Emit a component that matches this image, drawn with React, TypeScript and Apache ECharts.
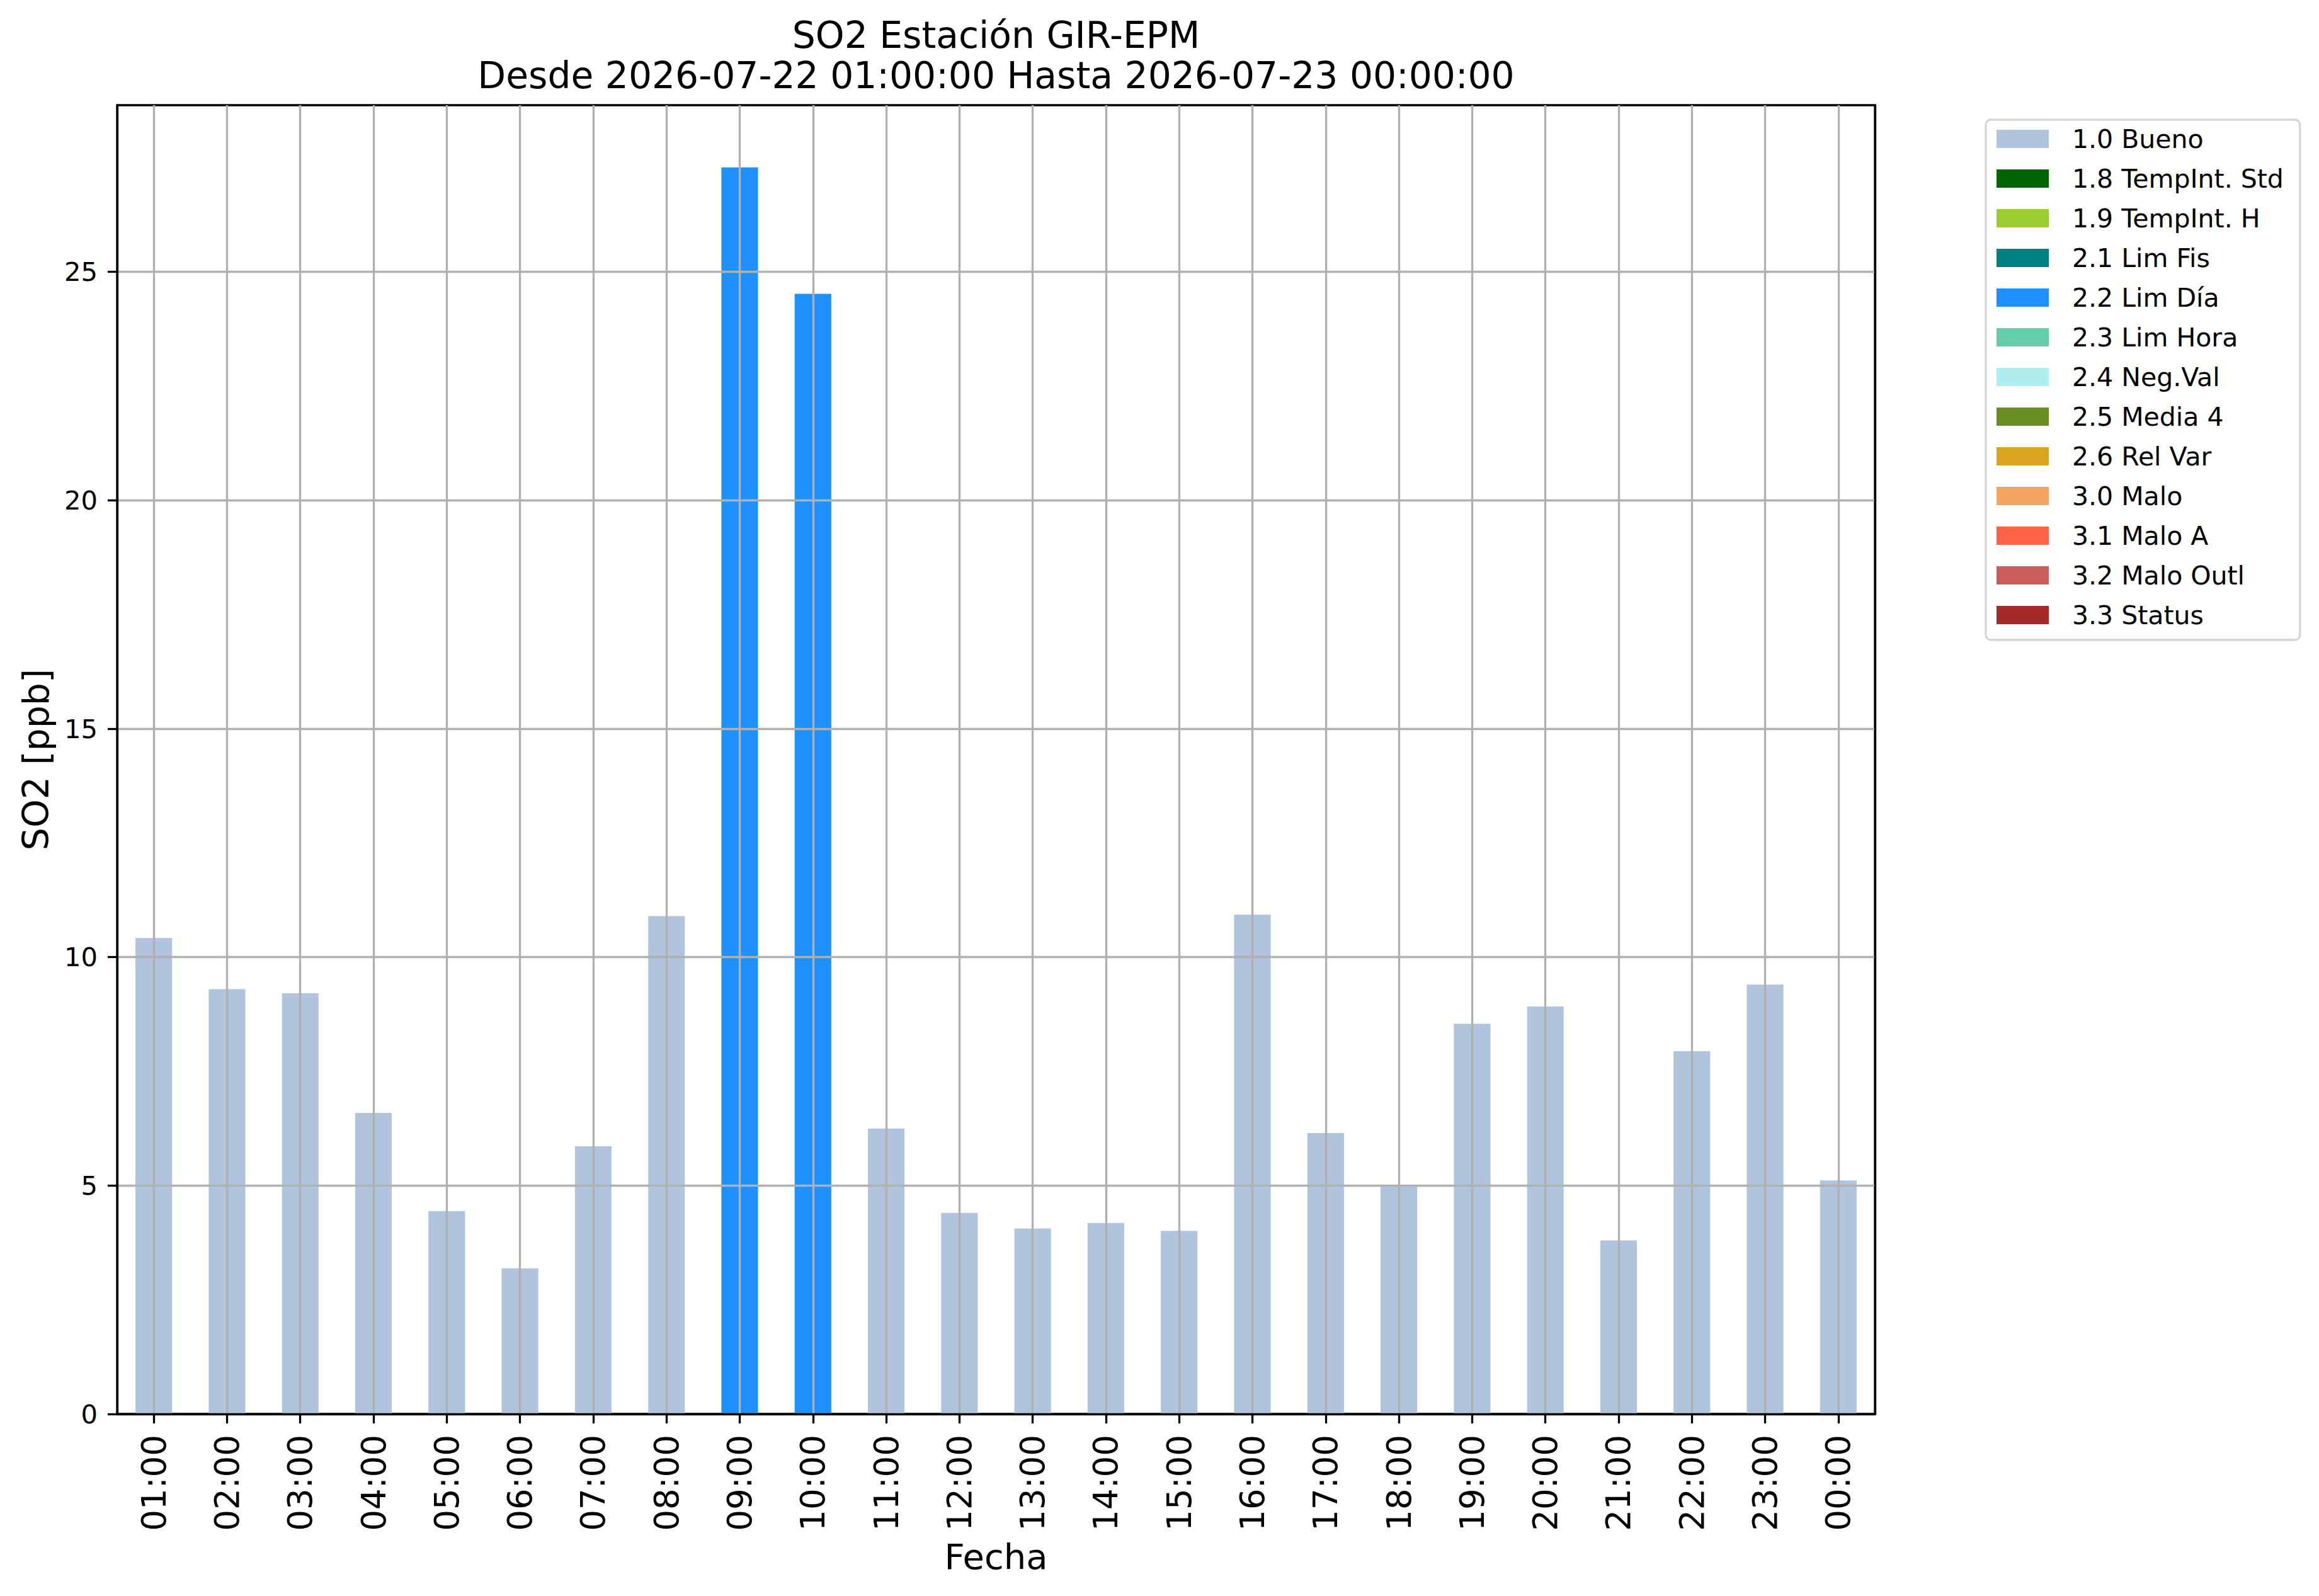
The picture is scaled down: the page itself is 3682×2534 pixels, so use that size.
import React, { useEffect, useRef } from 'react';
import * as echarts from 'echarts';

const hours = [
  '01:00', '02:00', '03:00', '04:00', '05:00', '06:00', '07:00', '08:00',
  '09:00', '10:00', '11:00', '12:00', '13:00', '14:00', '15:00', '16:00',
  '17:00', '18:00', '19:00', '20:00', '21:00', '22:00', '23:00', '00:00',
];

const so2Values = [
  10.42, 9.3, 9.21, 6.59, 4.44, 3.19, 5.86, 10.9,
  27.29, 24.52, 6.25, 4.4, 4.06, 4.18, 4.01, 10.93,
  6.15, 4.98, 8.54, 8.92, 3.8, 7.94, 9.4, 5.11,
];

const hourFlags = [
  '1.0 Bueno', '1.0 Bueno', '1.0 Bueno', '1.0 Bueno', '1.0 Bueno', '1.0 Bueno', '1.0 Bueno', '1.0 Bueno',
  '2.2 Lim Día', '2.2 Lim Día', '1.0 Bueno', '1.0 Bueno', '1.0 Bueno', '1.0 Bueno', '1.0 Bueno', '1.0 Bueno',
  '1.0 Bueno', '1.0 Bueno', '1.0 Bueno', '1.0 Bueno', '1.0 Bueno', '1.0 Bueno', '1.0 Bueno', '1.0 Bueno',
];

const flagNames = [
  '1.0 Bueno', '1.8 TempInt. Std', '1.9 TempInt. H', '2.1 Lim Fis', '2.2 Lim Día',
  '2.3 Lim Hora', '2.4 Neg.Val', '2.5 Media 4', '2.6 Rel Var', '3.0 Malo',
  '3.1 Malo A', '3.2 Malo Outl', '3.3 Status',
];

const flagColors = [
  '#B0C4DE', '#006400', '#9ACD32', '#008080', '#1E90FF',
  '#66CDAA', '#AFEEEE', '#6B8E23', '#DAA520', '#F4A460',
  '#FF6347', '#CD5C5C', '#A52A2A',
];

const yMin = 0;
const yMax = 28.65;
const yInterval = 5;
const yTickValues = [0, 5, 10, 15, 20, 25];

const titleLines = [
  'SO2 Estación GIR-EPM',
  'Desde 2026-07-22 01:00:00 Hasta 2026-07-23 00:00:00',
];
const xName = 'Fecha';
const yName = 'SO2 [ppb]';

const FONT = 'DejaVu Sans';
const GRID_LEFT = 186;
const GRID_TOP = 167;
const GRID_W = 2791;
const GRID_H = 2078;
const BAND = GRID_W / hours.length;
const LW = 3.3;
const GRID_COLOR = '#b0b0b0';
const LEGEND_FONT = 41;

export default function App() {
  const ref = useRef<HTMLDivElement>(null);

  useEffect(() => {
    if (!ref.current) return;
    const chart = echarts.init(ref.current, undefined, { renderer: 'svg' });

    const series = flagNames.map((name, i) => ({
      name,
      type: 'bar',
      stack: 'total',
      barWidth: '50%',
      xAxisIndex: 0,
      yAxisIndex: 0,
      itemStyle: { color: flagColors[i] },
      emphasis: { disabled: true },
      data: so2Values.map((v, k) => (hourFlags[k] === name ? v : '-')),
      z: 2,
    }));

    const spine = { show: true, lineStyle: { color: '#000000', width: LW } };

    const option: any = {
      animation: false,
      backgroundColor: '#ffffff',
      textStyle: { fontFamily: FONT },
      grid: [
        {
          left: GRID_LEFT, top: GRID_TOP, width: GRID_W, height: GRID_H,
          show: true, borderColor: '#000000', borderWidth: LW, backgroundColor: 'transparent',
        },
        { left: GRID_LEFT + BAND / 2, top: GRID_TOP, width: GRID_W - BAND, height: GRID_H, show: false },
      ],
      xAxis: [
        {
          type: 'category',
          gridIndex: 0,
          data: hours,
          z: 5,
          axisLine: spine,
          axisTick: { show: true, alignWithLabel: true, length: 15, lineStyle: { color: '#000000', width: LW } },
          axisLabel: { rotate: 90, fontSize: 53, margin: 33, color: '#000000', fontFamily: FONT, interval: 0 },
          splitLine: { show: false },
        },
        {
          type: 'value',
          gridIndex: 1,
          min: 0,
          max: hours.length - 1,
          interval: 1,
          z: 3,
          axisLine: { show: false },
          axisTick: { show: false },
          axisLabel: { show: false },
          splitLine: { show: true, lineStyle: { color: GRID_COLOR, width: LW } },
        },
      ],
      yAxis: [
        {
          type: 'value',
          gridIndex: 0,
          min: yMin,
          max: yMax,
          interval: yInterval,
          z: 5,
          axisLine: spine,
          axisTick: { show: true, length: 15, customValues: yTickValues, lineStyle: { color: '#000000', width: LW } },
          axisLabel: {
            fontSize: 41.7, margin: 31, color: '#000000', fontFamily: FONT,
            customValues: yTickValues,
            formatter: (v: number) => (Math.abs(v % yInterval) < 1e-9 ? String(v) : ''),
          },
          splitLine: { show: false },
        },
        {
          type: 'value',
          gridIndex: 1,
          min: yMin,
          max: yMax,
          show: false,
          splitLine: { show: false },
        },
        {
          type: 'value',
          gridIndex: 0,
          position: 'right',
          min: yMin,
          max: yMax,
          interval: yInterval,
          z: 5,
          axisLine: spine,
          axisTick: { show: false },
          axisLabel: { show: false },
          splitLine: { show: false },
        },
      ],
      legend: {
        show: true,
        orient: 'vertical',
        left: 3153,
        top: 190,
        data: flagNames,
        icon: 'rect',
        itemWidth: 83,
        itemHeight: 29,
        itemGap: 22,
        padding: [10, 26, 19, 17],
        backgroundColor: '#ffffff',
        borderColor: '#d6d6d6',
        borderWidth: LW,
        borderRadius: 8,
        selectedMode: false,
        textStyle: {
          fontSize: LEGEND_FONT,
          fontFamily: FONT,
          color: '#000000',
          padding: [0, 0, 0, 32],
        },
      },
      graphic: [
        {
          type: 'text', x: GRID_LEFT + GRID_W / 2, y: 55.7, silent: true,
          style: { text: titleLines[0], fontSize: 58.3, fontFamily: FONT, fill: '#000000', textAlign: 'center', textVerticalAlign: 'middle' },
        },
        {
          type: 'text', x: GRID_LEFT + GRID_W / 2, y: 119.7, silent: true,
          style: { text: titleLines[1], fontSize: 58.3, fontFamily: FONT, fill: '#000000', textAlign: 'center', textVerticalAlign: 'middle' },
        },
        {
          type: 'text', x: GRID_LEFT + GRID_W / 2, y: 2471, silent: true,
          style: { text: xName, fontSize: 56, fontFamily: FONT, fill: '#000000', textAlign: 'center', textVerticalAlign: 'middle' },
        },
        {
          type: 'text', x: 57, y: GRID_TOP + GRID_H / 2, rotation: Math.PI / 2, silent: true,
          style: { text: yName, fontSize: 57, fontFamily: FONT, fill: '#000000', textAlign: 'center', textVerticalAlign: 'middle' },
        },
      ],
      series: [
        ...series,
        {
          name: '__ygrid',
          type: 'line',
          xAxisIndex: 0,
          yAxisIndex: 0,
          data: [],
          silent: true,
          z: 3,
          markLine: {
            silent: true,
            symbol: 'none',
            label: { show: false },
            lineStyle: { color: GRID_COLOR, width: LW, type: 'solid' },
            data: yTickValues.filter((v) => v > 0).map((v) => ({ yAxis: v })),
          },
        },
      ],
    };

    chart.setOption(option);
    return () => chart.dispose();
  }, []);

  return (
    <div
      ref={ref}
      style={{ position: 'absolute', left: 0, top: 0, width: 3682, height: 2534, background: '#ffffff' }}
    />
  );
}
